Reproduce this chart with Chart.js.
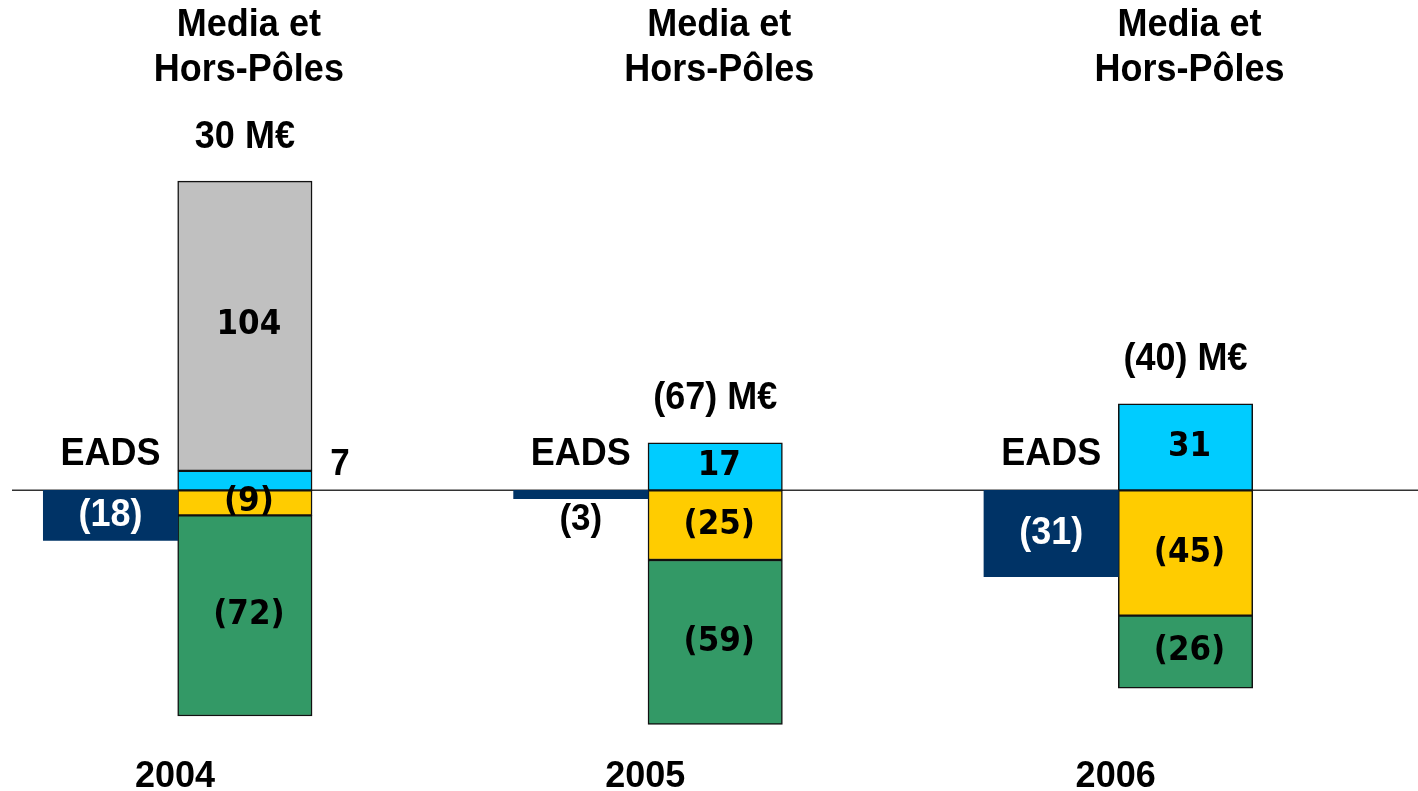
<!DOCTYPE html>
<html>
<head>
<meta charset="utf-8">
<title>EADS / Media et Hors-Pôles</title>
<script src="https://cdn.jsdelivr.net/npm/chart.js@4/dist/chart.umd.min.js"></script>
<style>
  html, body { margin: 0; padding: 0; background: #fff; }
  #wrap { width: 1418px; height: 791px; }
</style>
</head>
<body>
<div id="wrap"><canvas id="chart"></canvas></div>
<script>
// Données (M€)
const years = ['2004', '2005', '2006'];
const eads = [-18, -3, -31];
const positifs = [7, 17, 31];      // bleu clair
const autres = [104, null, null];  // gris
const jaune = [-9, -25, -45];
const vert = [-72, -59, -26];
const groupTitle = ['Media et', 'Hors-Pôles'];
const eadsLabel = 'EADS';
const unit = 'M€';

// un groupe = barre EADS puis barre Media juste à droite
const GROUP_STEP = 3.5;
const ARIAL = '"Liberation Sans", Arial, sans-serif';
const VERDANA = '"DejaVu Sans", Verdana, sans-serif';

function fmt(v) {
    return v < 0 ? '(' + Math.abs(v) + ')' : String(v);
}

function points(values, offset) {
    const out = [];
    values.forEach(function (v, i) {
        if (v !== null) out.push({ x: i * GROUP_STEP + offset, y: v });
    });
    return out;
}

function mediaSet(label, values, color) {
    return {
        label: label,
        data: points(values, 1),
        backgroundColor: color,
        borderColor: '#111',
        borderWidth: 1.5,
        borderSkipped: false,
        isMedia: true
    };
}

// texte un peu étiré verticalement comme dans l'original
function drawText(ctx, txt, x, y, size, family, color) {
    ctx.save();
    ctx.font = 'bold ' + size + 'px ' + family;
    ctx.fillStyle = color;
    ctx.textAlign = 'center';
    ctx.textBaseline = 'middle';
    ctx.translate(x, y);
    ctx.scale(1, 1.06);
    ctx.fillText(txt, 0, 0);
    ctx.restore();
}

const labelsPlugin = {
    id: 'labelsPlugin',
    beforeDatasetsDraw(chart) {
        const ctx = chart.ctx;
        const area = chart.chartArea;
        const y0 = chart.scales.y.getPixelForValue(0);
        ctx.save();
        ctx.strokeStyle = '#333';
        ctx.lineWidth = 1.5;
        ctx.beginPath();
        ctx.moveTo(area.left, y0);
        ctx.lineTo(area.right, y0);
        ctx.stroke();
        ctx.restore();
    },
    afterDatasetsDraw(chart) {
        const ctx = chart.ctx;
        const xs = chart.scales.x;
        const y0 = chart.scales.y.getPixelForValue(0);

        // valeurs dans les segments
        chart.data.datasets.forEach(function (ds, di) {
            const meta = chart.getDatasetMeta(di);
            meta.data.forEach(function (bar, j) {
                const v = ds.data[j].y;
                const top = Math.min(bar.y, bar.base);
                const bottom = Math.max(bar.y, bar.base);
                const mid = (top + bottom) / 2;
                if (!ds.isMedia) {
                    if (Math.abs(v) < 8) {
                        drawText(ctx, fmt(v), bar.x, bottom + 21, 35, ARIAL, '#000');
                    } else {
                        drawText(ctx, fmt(v), bar.x, mid, 36, ARIAL, '#fff');
                    }
                } else if (Math.abs(v) < 8) {
                    drawText(ctx, fmt(v), bar.x + bar.width / 2 + 28, top - 6, 35, ARIAL, '#000');
                } else {
                    drawText(ctx, fmt(v), bar.x + 4, mid, 31, VERDANA, '#000');
                }
            });
        });

        years.forEach(function (yr, i) {
            const xE = xs.getPixelForValue(i * GROUP_STEP);
            const xM = xs.getPixelForValue(i * GROUP_STEP + 1);

            drawText(ctx, eadsLabel, xE, y0 - 36, 36, ARIAL, '#000');
            drawText(ctx, groupTitle[0], xM + 4, 25, 36, ARIAL, '#000');
            drawText(ctx, groupTitle[1], xM + 4, 70, 36, ARIAL, '#000');

            // total Media et Hors-Pôles au-dessus de la pile
            let total = 0;
            let top = y0;
            chart.data.datasets.forEach(function (ds, di) {
                if (!ds.isMedia) return;
                const meta = chart.getDatasetMeta(di);
                ds.data.forEach(function (p, j) {
                    if (p.x === i * GROUP_STEP + 1) {
                        total += p.y;
                        top = Math.min(top, meta.data[j].y, meta.data[j].base);
                    }
                });
            });
            drawText(ctx, fmt(total) + ' ' + unit, xM, top - 44, 36, ARIAL, '#000');
        });
    }
};

new Chart(document.getElementById('chart'), {
    type: 'bar',
    data: {
        datasets: [
            {
                label: 'EADS',
                data: points(eads, 0),
                backgroundColor: '#003366',
                borderWidth: 0
            },
            mediaSet('positif', positifs, '#00CCFF'),
            mediaSet('autres', autres, '#C0C0C0'),
            mediaSet('jaune', jaune, '#FFCC00'),
            mediaSet('vert', vert, '#339966')
        ]
    },
    options: {
        responsive: true,
        maintainAspectRatio: false,
        animation: false,
        datasets: { bar: { barPercentage: 1, categoryPercentage: 1, clip: false } },
        layout: { padding: { left: 12, right: 0, top: 0, bottom: 0 } },
        plugins: {
            legend: { display: false },
            tooltip: { enabled: false }
        },
        scales: {
            x: {
                type: 'linear',
                stacked: true,
                offset: false,
                min: -0.733,
                max: 9.73,
                grid: { display: false, offset: false },
                border: { display: false },
                afterBuildTicks: function (scale) {
                    scale.ticks = years.map(function (y, i) {
                        return { value: i * GROUP_STEP + 0.48 };
                    });
                },
                ticks: {
                    maxRotation: 0,
                    autoSkip: false,
                    padding: -8,
                    color: '#000',
                    font: { family: ARIAL, size: 36, weight: 'bold' },
                    callback: function (v, idx) { return years[idx]; }
                }
            },
            y: {
                stacked: true,
                display: false,
                min: -95.3,
                max: 176
            }
        }
    },
    plugins: [labelsPlugin]
});
</script>
</body>
</html>
